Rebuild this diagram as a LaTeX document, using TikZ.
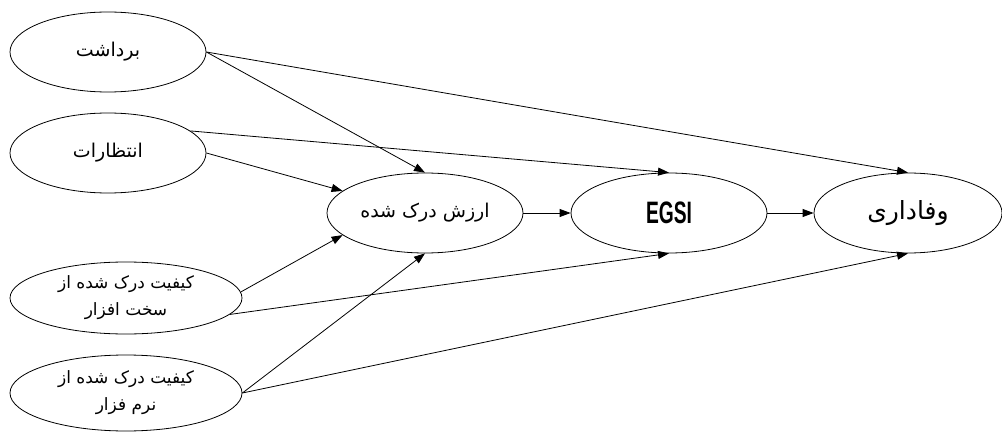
\documentclass[tikz,border=0pt]{standalone}
\usepackage{fontspec}
\setmainfont{Liberation Sans}
\newfontfamily\farsi[Script=Arabic]{DejaVu Sans}
\TeXXeTstate=1
\usetikzlibrary{shapes.geometric,arrows.meta}

\begin{document}
\begin{tikzpicture}[x=1pt,y=-1pt,
    factor/.style={draw,ellipse,inner sep=0pt,line width=0.8pt,
        minimum width=196pt,minimum height=80pt},
    small/.style={factor,minimum width=232pt,minimum height=72pt,align=center,
        font=\farsi\fontsize{17}{27}\selectfont},
    link/.style={-{Triangle[length=11pt,width=8pt]},line width=0.8pt}]
    \useasboundingbox (0,0) rectangle (1002,433);
    \node[factor,font=\farsi\fontsize{19}{22}\selectfont] (perc) at (108,52) {\beginR برداشت\endR};
    \node[factor,font=\farsi\fontsize{19}{22}\selectfont] (expe) at (108,153) {\beginR انتظارات\endR};
    \node[small] (hard) at (126,298) {\beginR کیفیت درک شده از\endR\\\beginR سخت افزار\endR};
    \node[small,minimum height=76pt] (soft) at (126,393) {\beginR کیفیت درک شده از\endR\\\beginR نرم فزار\endR};
    \node[factor,font=\farsi\fontsize{19}{22}\selectfont] (value) at (425,213) {\beginR ارزش درک شده\endR};
    \node[factor,font=\bfseries\fontsize{31}{34}\selectfont] (egsi) at (669,213) {\scalebox{0.62}[1]{EGSI}};
    \node[factor,minimum width=188pt,font=\farsi\fontsize{25}{28}\selectfont] (loyal) at (908,213) {\beginR وفاداری\endR};
    % arrows
    \draw[link] (perc.east) -- (loyal.north);
    \draw[link] (perc.east) -- (value.north);
    \draw[link] (expe.15) -- (egsi.north);
    \draw[link] (expe.east) -- (value.165);
    \draw[link] (hard.3) -- (value.195);
    \draw[link] (hard.-9) -- (egsi.south);
    \draw[link] (soft.east) -- (value.south);
    \draw[link] (soft.east) -- (loyal.south);
    \draw[link] (value) -- (egsi);
    \draw[link] (egsi) -- (loyal);
\end{tikzpicture}
\end{document}
